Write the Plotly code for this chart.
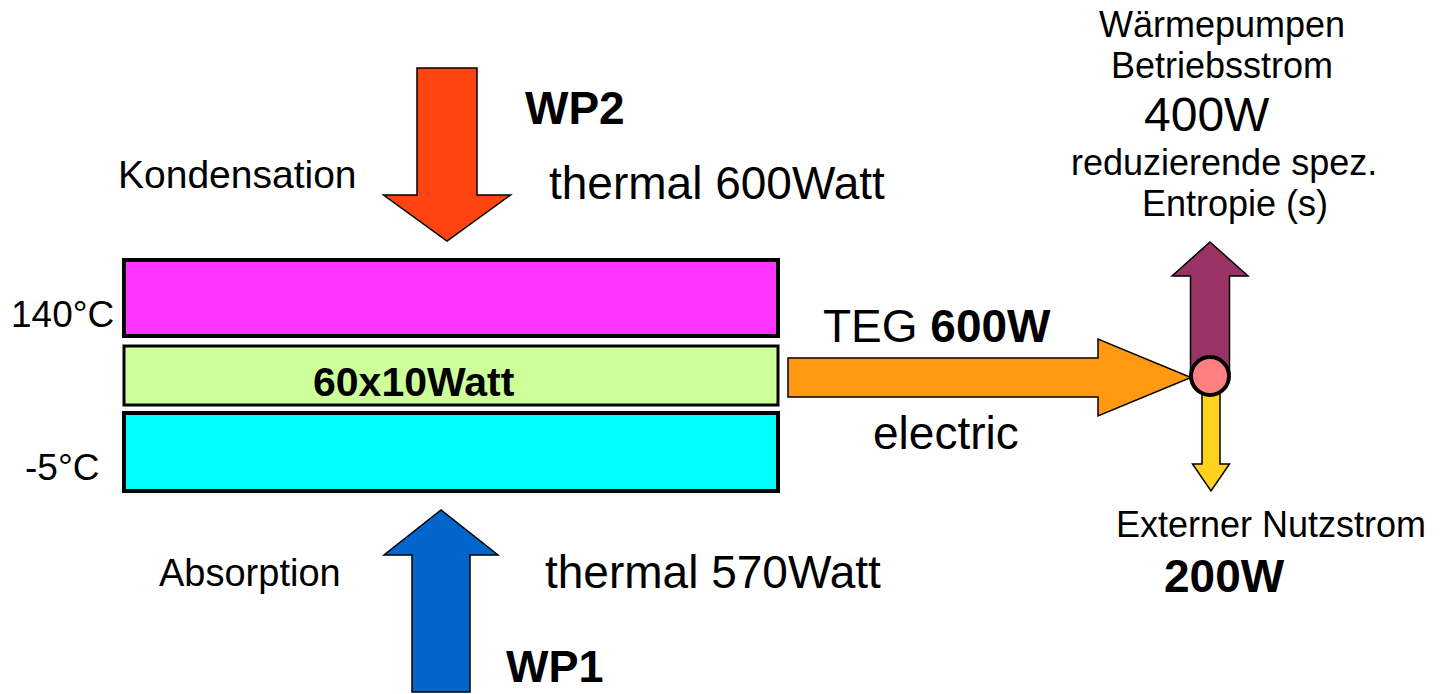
import plotly.graph_objects as go

# ---- diagram content (values / labels) ----
layer_names = ["Kondensation", "TEG", "Absorption"]
layer_temps = ["140°C", "", "-5°C"]
teg_modules = [60, 10]            # 60 x 10 Watt
thermal_in_w = [600, 570]         # WP2 (condensation), WP1 (absorption)
pump_labels = ["WP2", "WP1"]
teg_out_w = 600
hp_supply_w = 400
external_w = 200

FONT = "Liberation Sans, Arial, sans-serif"
W, H = 1451, 694

fig = go.Figure()
# invisible trace to establish axes
fig.add_trace(go.Scatter(x=[0, W], y=[0, H], mode="markers",
                         marker=dict(opacity=0), hoverinfo="skip", showlegend=False))


def arrow_path(x0, y0, x1, y1, bw, hw, hl):
    dx, dy = x1 - x0, y1 - y0
    L = (dx * dx + dy * dy) ** 0.5
    ux, uy = dx / L, dy / L
    px, py = -uy, ux
    bx, by = x1 - ux * hl, y1 - uy * hl
    pts = [
        (x0 + px * bw / 2, y0 + py * bw / 2),
        (bx + px * bw / 2, by + py * bw / 2),
        (bx + px * hw / 2, by + py * hw / 2),
        (x1, y1),
        (bx - px * hw / 2, by - py * hw / 2),
        (bx - px * bw / 2, by - py * bw / 2),
        (x0 - px * bw / 2, y0 - py * bw / 2),
    ]
    return "M " + " L ".join(f"{x:.1f},{y:.1f}" for x, y in pts) + " Z"


shapes = []
# layers
shapes.append(dict(type="rect", x0=124, x1=778, y0=260, y1=336,
                   fillcolor="#FF33FF", line=dict(color="black", width=4)))
shapes.append(dict(type="rect", x0=124, x1=778, y0=346, y1=405,
                   fillcolor="#CCFF99", line=dict(color="black", width=3)))
shapes.append(dict(type="rect", x0=124, x1=778, y0=413, y1=491,
                   fillcolor="#00FFFF", line=dict(color="black", width=4)))

# arrows
def add_arrow(x0, y0, x1, y1, bw, hw, hl, color):
    shapes.append(dict(type="path", path=arrow_path(x0, y0, x1, y1, bw, hw, hl),
                       fillcolor=color, line=dict(color="black", width=1.5)))

add_arrow(447, 68, 447, 241, 60, 127, 46, "#FF4411")      # WP2
add_arrow(441, 692, 441, 510, 58, 114, 45, "#0066CC")     # WP1
add_arrow(788, 377.5, 1191, 377.5, 39, 77, 93, "#FF9911") # TEG
add_arrow(1210, 376, 1210, 242, 39, 76, 34, "#993366")    # HP supply
add_arrow(1211, 392, 1211, 491, 18, 37, 27, "#FFD21E")    # external

# junction
shapes.append(dict(type="circle", x0=1191, x1=1229, y0=357, y1=395,
                   fillcolor="#FF8080", line=dict(color="black", width=4)))

ann = []
def txt(x, y, s, size, bold=False, xanchor="center", yanchor="middle"):
    if bold:
        s = f"<b>{s}</b>"
    ann.append(dict(x=x, y=y, text=s, showarrow=False, xref="x", yref="y",
                    xanchor=xanchor, yanchor=yanchor, borderpad=0,
                    font=dict(family=FONT, size=size, color="black")))

txt(237, 174, layer_names[0], 39)
txt(575, 108, pump_labels[0], 46, bold=True)
txt(717, 183, f"thermal {thermal_in_w[0]}Watt", 46)
txt(62, 314, layer_temps[0], 37)
txt(62, 467, layer_temps[2], 37)
txt(414, 382, f"{teg_modules[0]}x{teg_modules[1]}Watt", 41, bold=True)
txt(937, 326, f"TEG <b>{teg_out_w}W</b>", 46)
txt(946, 433, "electric", 46)
txt(250, 573, layer_names[2], 38)
txt(713, 572, f"thermal {thermal_in_w[1]}Watt", 46)
txt(555, 693, pump_labels[1], 45, bold=True, yanchor="bottom")

txt(1222, 24, "Wärmepumpen", 36)
txt(1222, 65, "Betriebsstrom", 36)
txt(1207, 114, f"{hp_supply_w}W", 48)
txt(1224, 162, "reduzierende spez.", 36)
txt(1235, 203, "Entropie (s)", 36)
txt(1271, 524, "Externer Nutzstrom", 36)
txt(1224, 576, f"{external_w}W", 46, bold=True)

fig.update_layout(
    width=W, height=H,
    margin=dict(l=0, r=0, t=0, b=0),
    paper_bgcolor="white", plot_bgcolor="white",
    xaxis=dict(range=[0, W], visible=False, fixedrange=True),
    yaxis=dict(range=[H, 0], visible=False, fixedrange=True),
    shapes=shapes, annotations=ann, showlegend=False,
)

fig.write_html("out.html", config={"displayModeBar": False},
               post_script="document.body.style.margin='0';document.body.style.overflow='hidden';")
